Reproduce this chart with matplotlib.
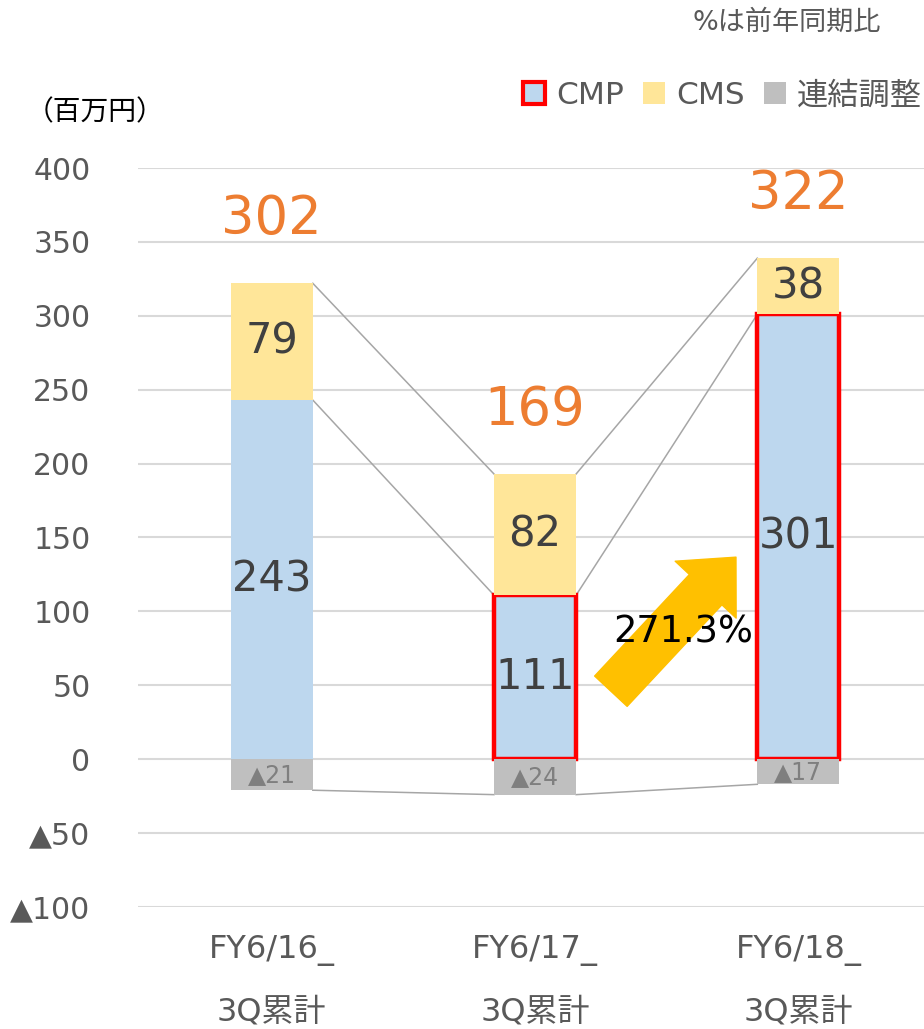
import matplotlib.pyplot as plt
import matplotlib.patches as mpatches
import numpy as np

plt.rcParams['font.family'] = ['DejaVu Sans', 'Noto Sans CJK JP']

# data (百万円)
periods = ['FY6/16_\n3Q累計', 'FY6/17_\n3Q累計', 'FY6/18_\n3Q累計']
cmp_vals = [243, 111, 301]
cms_vals = [79, 82, 38]
adj_vals = [-21, -24, -17]
totals = [302, 169, 322]
growth_label = '271.3%'
yticks = [-100, -50, 0, 50, 100, 150, 200, 250, 300, 350, 400]
ytick_labels = ['▲100', '▲50', '0', '50', '100', '150', '200', '250', '300', '350', '400']

c_cmp = '#BDD7EE'
c_cms = '#FFE699'
c_adj = '#BFBFBF'
c_text = '#595959'

fig = plt.figure(figsize=(9.24, 10.29), dpi=100)
ax = fig.add_axes([0.149, 0.1186, 0.851, 0.7181])

x = np.arange(len(periods))
w = 0.312

# bars
edge = ['none', 'red', 'red']
lws = [0, 3.2, 3.2]
ax.bar(x, cmp_vals, w, color=c_cmp, edgecolor=edge, linewidth=lws, zorder=3)
ax.bar(x, cms_vals, w, bottom=cmp_vals, color=c_cms, zorder=3)
ax.bar(x, adj_vals, w, color=c_adj, zorder=3)

# connecting lines between bars
tops = np.array(cmp_vals) + np.array(cms_vals)
for i in range(len(x) - 1):
    for series in (tops, cmp_vals, adj_vals):
        ax.plot([x[i] + w / 2, x[i + 1] - w / 2], [series[i], series[i + 1]],
                color='#A6A6A6', lw=1.1, zorder=2)

# labels inside segments
for i in range(len(x)):
    ax.text(x[i], cmp_vals[i] / 2, str(cmp_vals[i]), ha='center', va='center',
            fontsize=30, color='#404040', zorder=5)
    ax.text(x[i], cmp_vals[i] + cms_vals[i] / 2, str(cms_vals[i]), ha='center',
            va='center', fontsize=30, color='#404040', zorder=5)
    ax.text(x[i], adj_vals[i] / 2, '▲%d' % abs(adj_vals[i]), ha='center',
            va='center', fontsize=17, color='#7F7F7F', zorder=5)
    ax.annotate(str(totals[i]), (x[i], tops[i]), xytext=(0, 46),
                textcoords='offset points', ha='center', va='center',
                fontsize=38, color='#ED7D31')

# growth arrow
ax.annotate('', xy=(1.763, 136.7), xytext=(1.288, 46),
            arrowprops=dict(arrowstyle='simple,head_length=32,head_width=60,tail_width=32',
                            mutation_scale=1, color='#FFC000', shrinkA=0, shrinkB=0),
            zorder=4)
ax.text(1.563, 86, growth_label, ha='center', va='center', fontsize=26.5,
        color='black', zorder=6)

# axes styling
ax.set_ylim(-100, 400)
ax.set_xlim(-0.509, 2.477)
ax.set_yticks(yticks)
ax.set_yticklabels(ytick_labels)
ax.set_xticks(x)
ax.set_xticklabels(periods, linespacing=2.3)
ax.tick_params(axis='y', length=0, pad=34, labelsize=21.5, labelcolor=c_text)
ax.tick_params(axis='x', length=0, pad=20, labelsize=23, labelcolor=c_text)
ax.grid(axis='y', color='#D9D9D9', lw=1.5, zorder=0)
ax.set_axisbelow(True)
for s in ax.spines.values():
    s.set_visible(False)

fig.text(0.028, 0.891, '（百万円）', fontsize=20, color='black', va='center')
fig.text(0.954, 0.978, '%は前年同期比', fontsize=19.5, color=c_text, va='center', ha='right')

handles = [mpatches.Patch(facecolor=c_cmp, edgecolor='red', lw=3),
           mpatches.Patch(facecolor=c_cms),
           mpatches.Patch(facecolor=c_adj)]
fig.legend(handles, ['CMP', 'CMS', '連結調整'], loc='center right',
           bbox_to_anchor=(1.028, 0.907), ncol=3, frameon=False, fontsize=22.5,
           handlelength=0.7, handleheight=0.7, handletextpad=0.35,
           columnspacing=0.62, labelcolor=c_text)

fig.savefig('out.png', dpi=100)
